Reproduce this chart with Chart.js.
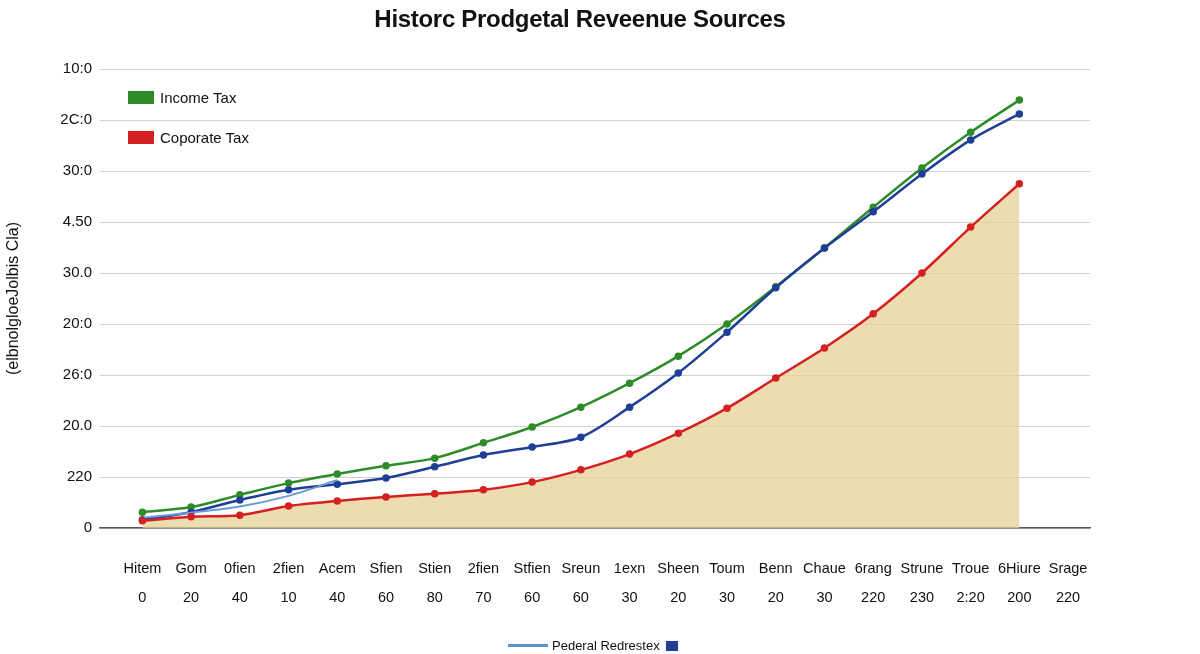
<!DOCTYPE html>
<html><head><meta charset="utf-8">
<script src="https://cdn.jsdelivr.net/npm/chart.js@4/dist/chart.umd.min.js"></script>
<style>
body{margin:0;background:#fff;font-family:"Liberation Sans",Arial,sans-serif;}
#wrap{position:relative;width:1200px;height:654px;}
#title{position:absolute;top:5px;left:0;width:1160px;text-align:center;font-size:24px;font-weight:bold;color:#111;letter-spacing:-0.3px}
.lg{position:absolute;font-size:15px;color:#111;display:flex;align-items:center;}
.sw{width:26px;height:13px;margin-right:6px;}
</style></head><body>
<div id="wrap">
<canvas id="c" width="1200" height="654"></canvas>
<div id="title">Historc Prodgetal Reveenue Sources</div>
<div class="lg" style="left:128px;top:89px"><span class="sw" style="background:#2e8b2a"></span>Income Tax</div>
<div class="lg" style="left:128px;top:129px"><span class="sw" style="background:#d42020"></span>Coporate Tax</div>
<div class="lg" style="left:508px;top:638px;font-size:13px"><span style="width:40px;height:3px;background:#5b8fd0;margin-right:4px"></span>Pederal Redrestex<span style="width:12px;height:10px;background:#1f3f96;margin-left:6px"></span></div>
</div>
<script>
const xNames=["Hitem","Gom","0fien","2fien","Acem","Sfien","Stien","2fien","Stfien","Sreun","1exn","Sheen","Toum","Benn","Chaue","6rang","Strune","Troue","6Hiure","Srage"];
const xNums=["0","20","40","10","40","60","80","70","60","60","30","20","30","20","30","220","230","2:20","200","220"];
const yLabels=["0","220","20.0","26:0","20:0","30.0","4.50","30:0","2C:0","10:0"];
const incomeTax=[0.31,0.41,0.65,0.88,1.06,1.22,1.37,1.67,1.98,2.37,2.84,3.37,4.0,4.73,5.49,6.29,7.06,7.76,8.39];
const federal=[0.16,0.31,0.55,0.75,0.86,0.98,1.2,1.43,1.59,1.78,2.37,3.04,3.84,4.71,5.49,6.2,6.94,7.61,8.12];
const federalLight=[0.2,0.3,0.42,0.63,0.94];
const corporate=[0.14,0.22,0.25,0.43,0.53,0.61,0.67,0.75,0.9,1.14,1.45,1.86,2.35,2.94,3.53,4.2,5.0,5.9,6.75];
const pts=a=>a.map((v,i)=>({x:i,y:v}));
const ints=n=>Array.from({length:n},(_,i)=>({value:i}));
new Chart(document.getElementById('c'),{
type:'line',
data:{datasets:[
{data:pts(corporate),borderColor:'#d42020',backgroundColor:'rgba(229,208,150,0.75)',fill:'origin',borderWidth:2.5,pointRadius:2.5,pointBackgroundColor:'#d42020',tension:0.3},
{data:pts(federalLight),borderColor:'#6d9ad6',borderWidth:2,pointRadius:0,tension:0.3},
{data:pts(federal),borderColor:'#1f3f96',borderWidth:2.5,pointRadius:2.5,pointBackgroundColor:'#1f3f96',tension:0.3},
{data:pts(incomeTax),borderColor:'#2e8b2a',borderWidth:2.5,pointRadius:2.5,pointBackgroundColor:'#2e8b2a',tension:0.3}
]},
options:{responsive:false,animation:false,
layout:{padding:{top:69,right:110,left:0,bottom:0}},
plugins:{legend:{display:false},tooltip:{enabled:false}},
scales:{
x:{type:'linear',min:-0.87,max:19.45,afterBuildTicks:s=>{s.ticks=ints(20);},
 afterFit:s=>{s.height=126;},
 grid:{display:false},border:{color:'#555',width:1.5},
 ticks:{autoSkip:false,maxRotation:0,padding:18,font:{size:14.5,family:'Liberation Sans',lineHeight:2},color:'#111',
  callback:(v)=>[xNames[v],xNums[v]]}},
y:{type:'linear',min:0,max:9,afterBuildTicks:s=>{s.ticks=ints(10);},
 afterFit:s=>{s.width=100;},
 grid:{color:'#d0d0d0',drawTicks:false},border:{display:false},
 title:{display:true,text:'(elbnolgloeJolbis Cla)',font:{size:16,family:'Liberation Sans'},color:'#111'},
 ticks:{padding:8,font:{size:15,family:'Liberation Sans'},color:'#111',callback:v=>yLabels[v]}}
}}});
</script></body></html>
